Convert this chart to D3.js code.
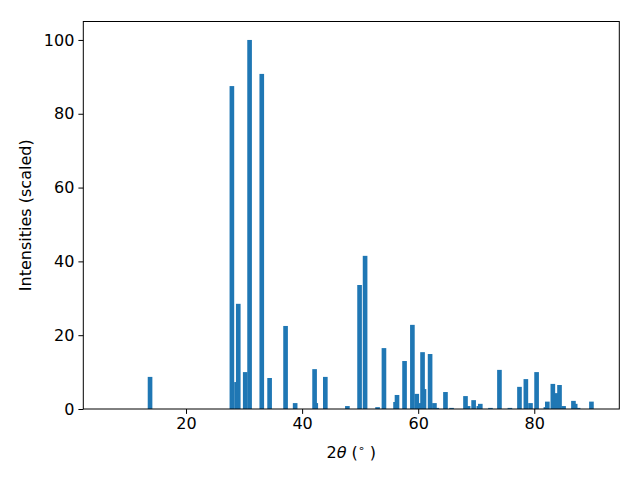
<!DOCTYPE html>
<html>
<head>
<meta charset="utf-8">
<script src="https://cdn.jsdelivr.net/npm/d3@7"></script>
<style>
  html, body { margin: 0; padding: 0; background: #fff; }
  text { font-family: "DejaVu Sans", sans-serif; }
</style>
</head>
<body>
<svg id="chart" width="640" height="480"></svg>
<script>
// Peak positions (2θ, degrees)
const twoTheta = [
  13.8, 27.9, 28.7, 29.0, 30.2, 30.95, 33.05, 34.4, 37.15, 38.8,
  42.15, 42.35, 44.0, 47.8, 49.9, 50.85, 53.0, 54.1, 56.1, 56.35,
  57.65, 59.0, 59.75, 60.2, 60.75, 61.0, 62.05, 62.8, 63.2, 64.7,
  65.75, 68.15, 68.6, 69.55, 70.45, 70.7, 72.45, 74.0, 75.8, 77.45,
  78.55, 79.35, 80.4, 82.0, 82.25, 83.2, 83.65, 83.85, 84.35, 85.05,
  86.75, 87.05, 87.55, 89.85
];
// Scaled intensities
const intensities = [
  8.7, 87.5, 7.3, 28.5, 10.0, 100, 90.8, 8.4, 22.5, 1.6,
  10.8, 1.6, 8.7, 0.8, 33.6, 41.5, 0.5, 16.5, 1.9, 3.8,
  13.0, 22.8, 4.1, 1.6, 15.4, 5.4, 14.9, 1.6, 0.3, 4.6,
  0.3, 3.5, 0.8, 2.4, 0.8, 1.4, 0.3, 10.6, 0.3, 6.0,
  8.1, 1.6, 10.0, 0.5, 2.0, 6.8, 2.4, 4.3, 6.5, 0.8,
  2.2, 1.4, 0.3, 2.0
];
const xTicks = [20, 40, 60, 80];
const yTicks = [0, 20, 40, 60, 80, 100];
const barWidth = 0.8;

const margin = {left: 83.3, right: 640 - 619.3, top: 21.5, bottom: 480 - 409};
const W = 640, H = 480;
const svg = d3.select("#chart");

const x = d3.scaleLinear().domain([2.3, 94.65]).range([margin.left, W - margin.right]);
const y = d3.scaleLinear().domain([0, 105]).range([H - margin.bottom, margin.top]);

const data = twoTheta.map((t, i) => ({t, v: intensities[i]}));

svg.append("g").selectAll("rect").data(data).join("rect")
  .attr("x", d => x(d.t - barWidth / 2))
  .attr("width", d => x(d.t + barWidth / 2) - x(d.t - barWidth / 2))
  .attr("y", d => y(d.v))
  .attr("height", d => y(0) - y(d.v))
  .attr("fill", "#1f77b4");

// frame
svg.append("rect")
  .attr("x", margin.left).attr("y", margin.top)
  .attr("width", W - margin.right - margin.left)
  .attr("height", H - margin.bottom - margin.top)
  .attr("fill", "none").attr("stroke", "#000").attr("stroke-width", 1);

const xAxis = svg.append("g")
  .attr("transform", `translate(0,${H - margin.bottom})`)
  .call(d3.axisBottom(x).tickValues(xTicks).tickSize(4.9).tickPadding(4).tickFormat(d3.format("d")));
const yAxis = svg.append("g")
  .attr("transform", `translate(${margin.left},0)`)
  .call(d3.axisLeft(y).tickValues(yTicks).tickSize(4.9).tickPadding(4).tickFormat(d3.format("d")));

[xAxis, yAxis].forEach(g => {
  g.select(".domain").remove();
  g.selectAll("line").attr("stroke", "#000").attr("stroke-width", 1);
  g.selectAll("text").attr("font-family", "DejaVu Sans, sans-serif").attr("font-size", 16).attr("fill", "#000");
});

// x label
const xl = svg.append("text")
  .attr("x", (margin.left + W - margin.right) / 2)
  .attr("y", 458)
  .attr("text-anchor", "middle")
  .attr("font-size", 16).attr("fill", "#000");
xl.append("tspan").text("2");
xl.append("tspan").attr("font-style", "italic").text("θ");
xl.append("tspan").text(" (");
xl.append("tspan").attr("font-size", 11).attr("dy", -6).text("∘");
xl.append("tspan").attr("dy", 6).text(" )");

// y label
svg.append("text")
  .attr("transform", `translate(31,${(margin.top + H - margin.bottom) / 2}) rotate(-90)`)
  .attr("text-anchor", "middle")
  .attr("font-size", 16).attr("fill", "#000")
  .text("Intensities (scaled)");
</script>
</body>
</html>
